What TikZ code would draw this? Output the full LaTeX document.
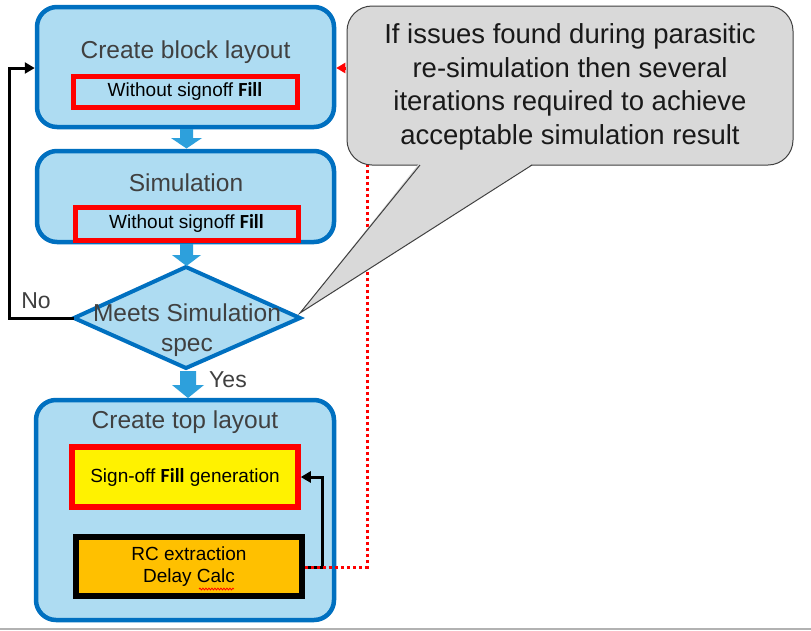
\documentclass[tikz,border=0pt]{standalone}
\usepackage{fontspec}
\setmainfont{Liberation Sans}
\newfontfamily\calib{Carlito}
\usetikzlibrary{arrows.meta,decorations.pathmorphing}
\definecolor{lblue}{RGB}{174,220,242}
\definecolor{bblue}{RGB}{0,112,192}
\definecolor{arrblue}{RGB}{45,160,220}
\definecolor{txtgray}{RGB}{64,64,64}
\definecolor{cgray}{RGB}{217,217,217}
\definecolor{orng}{RGB}{255,192,0}
\newcommand{\fillw}{{\calib\bfseries\fontsize{20}{20}\selectfont Fill}}
\begin{document}
\begin{tikzpicture}[x=1pt,y=-1pt,
  bigbox/.style={draw=bblue,line width=4.5pt,fill=lblue,rounded corners=20pt,inner sep=0pt},
  redbox/.style={draw=red,line width=5pt,inner sep=0pt,font=\fontsize{19}{22}\selectfont},
  biglabel/.style={text=txtgray,font=\fontsize{24.5}{30}\selectfont,inner sep=0pt},
  blockarrow/.style={fill=arrblue,draw=none},
  conn/.style={black,line width=3pt,-{Triangle[length=10pt,width=11pt]}},
  redconn/.style={red,line width=3pt,dash pattern=on 3pt off 3pt,-{Triangle[length=9pt,width=10pt]}}]
\useasboundingbox (0,0) rectangle (811,630);
\fill[white] (0,0) rectangle (811,630);
\draw[gray!60,line width=2pt] (0,629) -- (811,629);

% boxes
\node[bigbox,minimum width=297pt,minimum height=120pt] (b1) at (185.5,67) {};
\node[bigbox,minimum width=297pt,minimum height=91pt] (b2) at (185.5,196.5) {};
\node[bigbox,minimum width=298pt,minimum height=220pt] (b3) at (185,510) {};

\node[biglabel] (t1) at (185.5,52) {Create block layout};
\node[biglabel] (t2) at (186,183) {Simulation};
\node[biglabel] (t3) at (185,422) {Create top layout};

\node[redbox,minimum width=224pt,minimum height=31pt] (r1) at (185,91.5) {Without signoff \fillw};
\node[redbox,minimum width=223pt,minimum height=33pt] (r2) at (186.5,223.5) {Without signoff \fillw};

\node[draw=red,fill=yellow,line width=5.5pt,minimum width=226pt,minimum height=60pt,inner sep=0pt,font=\fontsize{19}{22}\selectfont] (y1) at (185,477) {Sign-off \fillw{} generation};
\node[draw=black,fill=orng,line width=5.5pt,minimum width=226pt,minimum height=59pt,inner sep=0pt,align=center,font=\fontsize{19}{22}\selectfont] (o1) at (189,566.5) {RC extraction\\Delay Calc};
\draw[red,line width=0.8pt,decorate,decoration={snake,amplitude=0.9pt,segment length=3pt}] (199,589) -- (234,589);

% diamond
\coordinate (dt) at (186,267);
\coordinate (dr) at (300,318);
\coordinate (db) at (186,368);
\coordinate (dl) at (74,318);
\draw[draw=bblue,fill=lblue,line width=4pt,line join=miter] (dt) -- (dr) -- (db) -- (dl) -- cycle;
\node[biglabel,align=center,font=\fontsize{24.5}{30}\selectfont] (dtext) at (187,330) {Meets Simulation\\spec};

% block arrows
\fill[blockarrow] (180,129) -- (193,129) -- (193,138) -- (202,138) -- (186.5,148.5) -- (171,138) -- (180,138) -- cycle;
\fill[blockarrow] (180,244) -- (193,244) -- (193,255) -- (201,255) -- (186.5,266) -- (172,255) -- (180,255) -- cycle;
\fill[blockarrow] (180,371) -- (196,371) -- (196,385) -- (204,385) -- (188,398) -- (172,385) -- (180,385) -- cycle;
\node[biglabel,font=\fontsize{23}{26}\selectfont,text=txtgray] (yes) at (228,380) {Yes};
\node[biglabel,font=\fontsize{23}{26}\selectfont,text=txtgray] (no) at (36,301) {No};

% connectors
\coordinate (n1) at (9,318);
\coordinate (n2) at (9,68);
\draw[conn] (dl) -- (n1) -- (n2) -- (b1.west |- n2);
\coordinate (k1) at (322,567);
\coordinate (k2) at (322,477);
\draw[conn] (o1.east |- k1) -- (k1) -- (k2) -- (y1.east);
\coordinate (p1) at (367,567);
\coordinate (p2) at (367,68);
\draw[redconn] (o1.east |- p1) -- (p1) -- (p2) -- (b1.east |- p2);

% callout
\node[draw=black!75,fill=cgray,line width=1pt,rounded corners=25pt,minimum width=446pt,minimum height=159pt,inner sep=0pt] (co) at (570,85.5) {};
\coordinate (tip) at (300,313);
\fill[cgray] (419,163.5) -- (tip) -- (533,163.5) -- cycle;
\draw[black!75,line width=1pt,line join=miter] (420,165) -- (tip) -- (532,165);
\node[align=center,text=black!90,font=\fontsize{27.5}{33.5}\selectfont,inner sep=0pt] (ctext) at (570,87) {If issues found during parasitic\\re-simulation then several\\iterations required to achieve\\acceptable simulation result};
\end{tikzpicture}
\end{document}
